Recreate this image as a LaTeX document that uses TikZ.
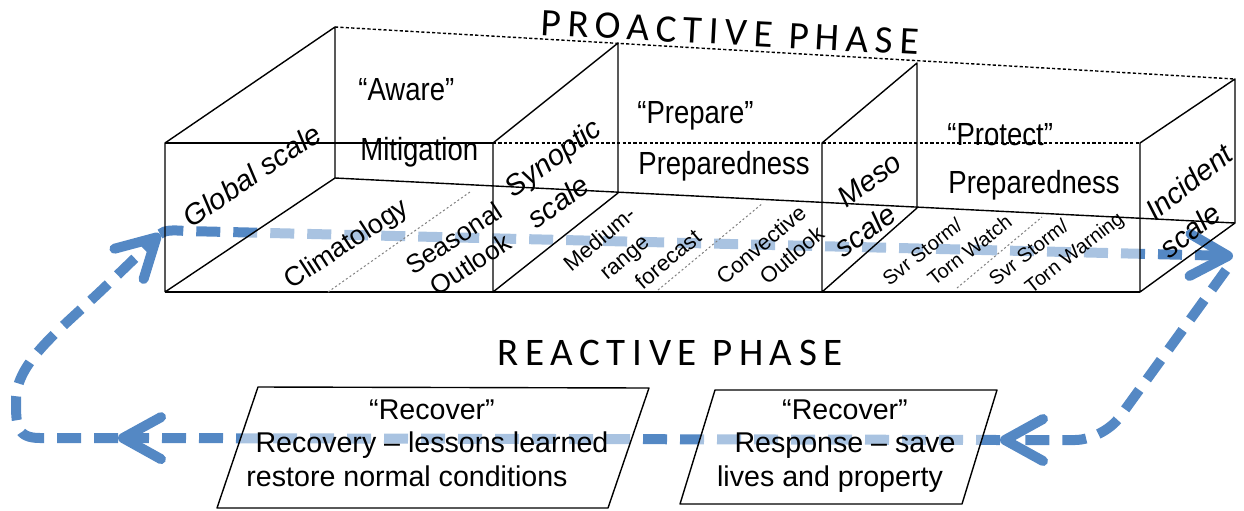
\documentclass[tikz,border=0pt]{standalone}
\usepackage{fontspec}
\setmainfont{Liberation Sans}
\newfontfamily\narrowsans[FakeStretch=0.86]{Liberation Sans}
\newfontfamily\phasefont[LetterSpace=17]{Carlito}
\usetikzlibrary{arrows.meta}

\definecolor{loopblue}{RGB}{84,136,196}

\tikzset{
  wire/.style={line width=0.7pt, line join=round},
  dotwire/.style={line width=0.7pt, dash pattern=on 1.6pt off 1.1pt},
  guide/.style={line width=0.5pt, gray, dash pattern=on 1pt off 1.2pt},
  veil/.style={fill=white, fill opacity=0.5},
  loopline/.style={loopblue, line width=5pt, dash pattern=on 12pt off 6.5pt,
    -{Straight Barb[length=19pt, width=21pt, round]}},
  phase/.style={font=\phasefont\fontsize{19.5}{22}\selectfont, anchor=base west, inner sep=0pt},
  stage/.style={font=\narrowsans\fontsize{16}{19}\selectfont, anchor=base west, inner sep=0pt},
  scalelbl/.style={font=\itshape\fontsize{14.5}{17.5}\selectfont, align=left, inner sep=0pt},
  floorlbl/.style 2 args={font=\fontsize{#1}{#2}\selectfont, inner sep=0pt},
  action/.style={font=\fontsize{14.3}{16.8}\selectfont, align=center, inner sep=0pt},
}

\begin{document}
\begin{tikzpicture}[x=0.5pt,y=-0.5pt]
  \useasboundingbox (0,0) rectangle (1244,510);

  % the loop
  \coordinate (corner) at (160,234);
  \coordinate (topend) at (1233,256);
  \coordinate (rightstart) at (1226,270);
  \coordinate (respin) at (1000,440);
  \coordinate (recin) at (118,438);

  \draw[loopline] (corner) .. controls (165,230) and (172,230) .. (186,231) -- (topend);
  \draw[loopline, rounded corners=14pt] (rightstart) -- (1103,440) -- (respin);
  \draw[loopline] (respin) -- (recin);
  \draw[loopline] (recin) -- (40,438) .. controls (16,438) and (16,425) .. (16,400)
    .. controls (16,362) and (60,330) .. (105,287) -- (corner);

  % floor of the box
  \fill[veil] (165,292) -- (335,178) -- (1140,218) -- (1140,292) -- cycle;

  % box frame
  \foreach \fx/\bx/\bt/\bb in {165/335/27/178, 493/618/43/193, 822/917/63/208, 1140/1235/79/223}
    \draw[wire] (\fx,292) -- (\fx,143) -- (\bx,\bt) -- (\bx,\bb) -- (\fx,292);
  \draw[wire] (165,292) -- (1140,292);
  \draw[wire] (165,143) -- (493,143);
  \draw[dotwire] (493,143) -- (1140,143);
  \draw[dotwire] (335,27) -- (1235,79);
  \draw[wire] (335,178) -- (1235,223);

  \draw[guide] (328,292) -- (470,192);
  \draw[guide] (658,290) -- (763,203);
  \draw[guide] (957,288) -- (1042,217);

  % reactive boxes
  \draw[wire, veil] (258,387) -- (649,388) -- (608,508) -- (217,508) -- cycle;
  \draw[wire, veil] (715,390) -- (997,390) -- (962,504) -- (680,504) -- cycle;

  % titles
  \node[phase, rotate=-3] (proactive) at (540,35) {PROACTIVE PHASE};
  \node[phase] (reactive) at (497,365) {REACTIVE PHASE};

  \node[stage] (aware) at (358,100) {“Aware”};
  \node[stage] (mitigation) at (360,160) {Mitigation};
  \node[stage] (prepare) at (637,123) {“Prepare”};
  \node[stage] (preparedness) at (638,174) {Preparedness};
  \node[stage] (protect) at (947,145) {“Protect”};
  \node[stage] (protectprep) at (948,193) {Preparedness};

  \node[scalelbl, rotate=34] (global) at (252,175) {Global scale};
  \node[scalelbl, rotate=36] (synoptic) at (564,173) {Synoptic\\[2pt]scale};
  \node[scalelbl, rotate=36] (meso) at (868,205) {\hspace*{16pt}Meso\\[2pt]scale};
  \node[scalelbl, rotate=38] (incident) at (1196,201) {\hspace*{6pt}Incident\\[2pt]scale};

  \node[floorlbl={13.5}{16}, rotate=33] (climatology) at (347,245) {Climatology};
  \node[floorlbl={13}{15.5}, rotate=33, align=center] (seasonal) at (462,251) {Seasonal\\Outlook};
  \node[floorlbl={11}{15}, rotate=40, align=left] (medium) at (632,250)
    {Medium-\\\hspace*{11pt}range\\\hspace*{21.5pt}forecast};
  \node[floorlbl={11}{14}, rotate=40, align=right] (convective) at (770,255) {Convective\\Outlook};
  \node[floorlbl={10}{14}, rotate=38, align=left] (watch) at (947,250) {Svr Storm/\\\hspace*{17.5pt}Torn Watch};
  \node[floorlbl={10}{14}, rotate=38, align=left] (warning) at (1057,250) {Svr Storm/\\\hspace*{12pt}Torn Warning};

  \node[action] (recovery) at (432,443)
    {“Recover”\\Recovery – lessons learned\\restore normal conditions\hspace*{25pt}};
  \node[action] (response) at (845,446) {“Recover”\\Response – save\\lives and property\hspace*{15pt}};
\end{tikzpicture}
\end{document}
